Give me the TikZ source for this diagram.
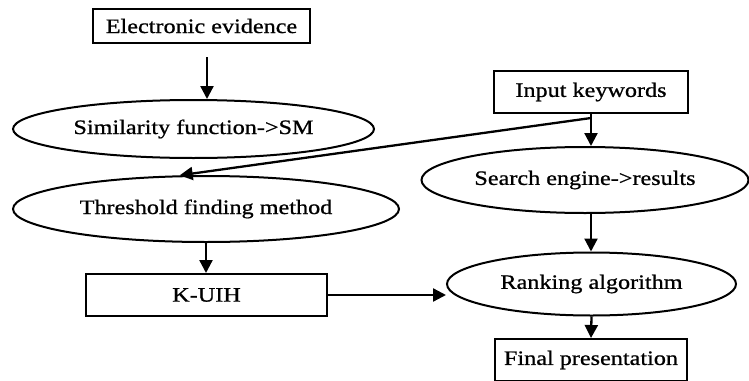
\documentclass[tikz,border=0pt]{standalone}
\usepackage{fontspec}
\setmainfont[FakeStretch=1.18,FakeBold=0.8]{Liberation Serif}
\usetikzlibrary{arrows.meta,shapes.geometric,calc}
\begin{document}
\begin{tikzpicture}[x=1pt,y=-1pt,
  every node/.style={font=\fontsize{20.5}{24}\selectfont, inner sep=0pt},
  boxnode/.style={draw, line width=2pt, rectangle},
  ellnode/.style={draw, line width=2pt, ellipse},
  arr/.style={line width=2.3pt, -{Triangle[width=13pt,length=13pt]}}]
\useasboundingbox (0,0) rectangle (749,380);
\node[boxnode, minimum width=217pt, minimum height=34pt] (ee) at (201.5,26) {Electronic evidence};
\node[boxnode, minimum width=194pt, minimum height=42pt] (kw) at (591,92) {Input keywords};
\node[ellnode, minimum width=361pt, minimum height=58pt] (sim) at (193.5,129) {Similarity function->SM};
\node[ellnode, minimum width=386pt, minimum height=66pt] (thr) at (206,209) {Threshold finding method};
\node[ellnode, minimum width=327pt, minimum height=66pt] (srch) at (585,180) {Search engine->results};
\node[boxnode, minimum width=241pt, minimum height=42pt] (kuih) at (206.5,295) {K-UIH};
\node[ellnode, minimum width=289pt, minimum height=63pt] (rank) at (591.5,284) {Ranking algorithm};
\node[boxnode, minimum width=192pt, minimum height=42pt] (fin) at (591,360) {Final presentation};
\draw[arr] ([xshift=5.5pt,yshift=-13pt]ee.south) -- ([xshift=5.5pt]ee.south |- sim.north);
\draw[arr] (kw.south) -- (kw.south |- srch.north);
\draw[arr] ([yshift=-4pt]kw.south) -- (thr.128);
\draw[arr] (thr.south) -- (thr.south |- kuih.north);
\draw[arr] (kw.south |- srch.south) -- (kw.south |- rank.north);
\draw[arr] (kuih.east) -- (kuih.east -| rank.west);
\draw[arr] (rank.south) -- (fin.north);
\end{tikzpicture}
\end{document}
